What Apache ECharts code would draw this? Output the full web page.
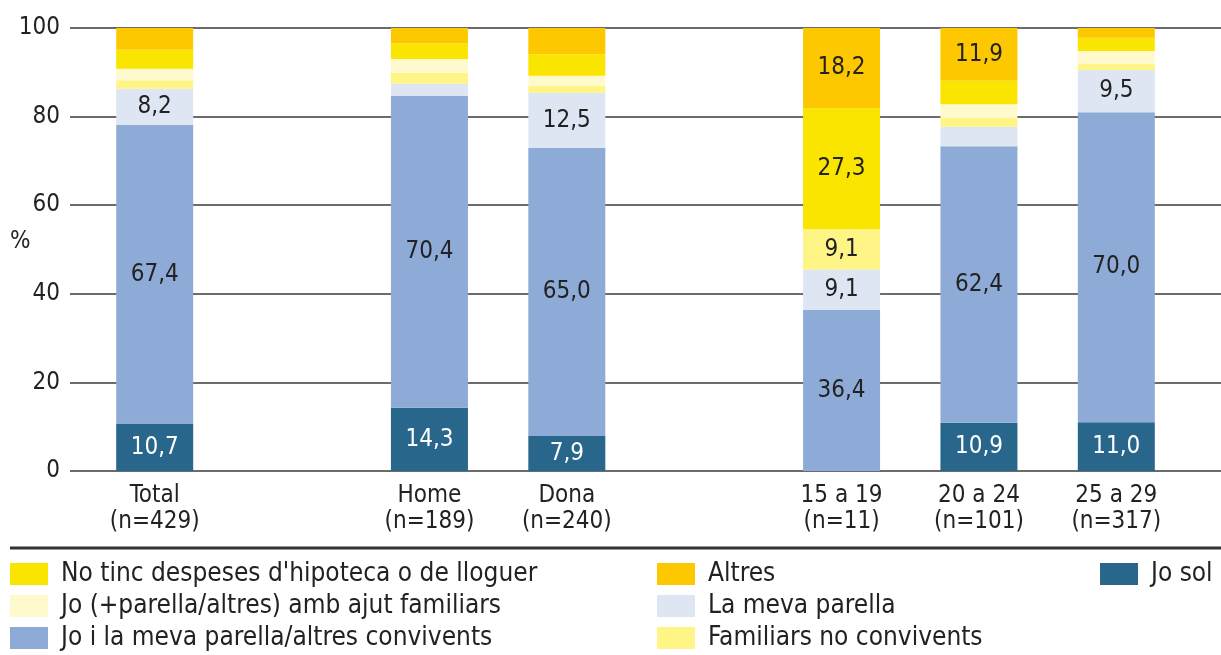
<!DOCTYPE html>
<html>
<head>
<meta charset="utf-8">
<script src="https://cdn.jsdelivr.net/npm/echarts@6/dist/echarts.min.js"></script>
<style>
  html, body { margin: 0; padding: 0; background: #fff; }
  #chart { width: 1221px; height: 655px; }
</style>
</head>
<body>
<div id="chart"></div>
<script>
// categories (blank slots keep the gaps between groups)
const categories = ['Total\n(n=429)', '', 'Home\n(n=189)', 'Dona\n(n=240)', '', '15 a 19\n(n=11)', '20 a 24\n(n=101)', '25 a 29\n(n=317)']

// series values, bottom to top
const joSol       = [10.7, null, 14.3, 7.9, null, null, 10.9, 11.0]
const joIParella  = [67.4, null, 70.4, 65.0, null, 36.4, 62.4, 70.0]
const mevaParella = [8.2, null, 2.7, 12.5, null, 9.1, 4.4, 9.5]
const familiarsNo = [1.9, null, 2.5, 1.5, null, 9.1, 2.0, 1.4]
const ambAjut     = [2.6, null, 3.1, 2.3, null, null, 3.1, 2.9]
const noDespeses  = [4.3, null, 3.5, 4.9, null, 27.3, 5.3, 3.0]
const altres      = [4.9, null, 3.5, 5.9, null, 18.2, 11.9, 2.2]

const FONT = "'Liberation Sans Narrow', 'DejaVu Sans Condensed', 'Roboto', sans-serif"

const chart = echarts.init(document.getElementById('chart'))

// only the bigger segments get a value label, with a decimal comma
const fmt = p => (p.value != null && p.value >= 7) ? p.value.toFixed(1).replace('.', ',') : ''

const mkSeries = (name, data, color, labelColor) => ({
  name,
  type: 'bar',
  stack: 'total',
  xAxisIndex: 1,
  yAxisIndex: 1,
  barWidth: 77,
  data,
  itemStyle: { color },
  label: {
    show: true,
    position: 'inside',
    formatter: fmt,
    color: labelColor,
    fontSize: 24,
    fontFamily: FONT
  },
  emphasis: { disabled: true }
})

const legendText = { fontSize: 26, color: '#222', fontFamily: FONT, padding: [0, 0, 0, 8], lineHeight: 26 }
const legendBase = {
  top: 561, height: 110, orient: 'vertical', itemWidth: 38, itemHeight: 22, itemGap: 6,
  icon: 'rect', textStyle: legendText, selectedMode: false, padding: 0
}

const option = {
  animation: false,
  textStyle: { fontFamily: FONT },
  grid: [
    { left: 70, right: 0, top: 28, height: 443 },
    { left: 86, right: 36, top: 28, height: 443 }
  ],
  xAxis: [
    { gridIndex: 0, type: 'value', show: false, min: 0, max: 1 },
    {
      gridIndex: 1,
      type: 'category',
      data: categories,
      axisLine: { show: false },
      axisTick: { show: false },
      axisLabel: { fontSize: 24, color: '#222', lineHeight: 26, margin: 12, interval: 0, fontFamily: FONT }
    }
  ],
  yAxis: [
    {
      gridIndex: 0,
      type: 'value',
      min: 0,
      max: 100,
      interval: 20,
      axisLine: { show: false },
      axisTick: { show: false },
      axisLabel: { fontSize: 24, color: '#222', margin: 10, fontFamily: FONT },
      splitLine: { lineStyle: { color: '#3a3a3a', width: 1.5 } }
    },
    { gridIndex: 1, type: 'value', min: 0, max: 100, show: false, splitLine: { show: false } }
  ],
  legend: [
    Object.assign({}, legendBase, {
      left: 10,
      data: ["No tinc despeses d'hipoteca o de lloguer", 'Jo (+parella/altres) amb ajut familiars', 'Jo i la meva parella/altres convivents']
    }),
    Object.assign({}, legendBase, {
      left: 657,
      data: ['Altres', 'La meva parella', 'Familiars no convivents']
    }),
    Object.assign({}, legendBase, {
      left: 1100,
      data: ['Jo sol']
    })
  ],
  graphic: [
    { type: 'text', left: 10, top: 230, style: { text: '%', fontSize: 24, fill: '#222', fontFamily: FONT } },
    { type: 'line', shape: { x1: 10, y1: 548, x2: 1221, y2: 548 }, style: { stroke: '#333', lineWidth: 3 } }
  ],
  series: [
    mkSeries('Jo sol', joSol, '#29668b', '#fff'),
    mkSeries('Jo i la meva parella/altres convivents', joIParella, '#8eabd7', '#222'),
    mkSeries('La meva parella', mevaParella, '#dfe6f3', '#222'),
    mkSeries('Familiars no convivents', familiarsNo, '#fff486', '#222'),
    mkSeries('Jo (+parella/altres) amb ajut familiars', ambAjut, '#fffacd', '#222'),
    mkSeries("No tinc despeses d'hipoteca o de lloguer", noDespeses, '#fae500', '#222'),
    mkSeries('Altres', altres, '#fec800', '#222')
  ]
}

chart.setOption(option)
</script>
</body>
</html>
